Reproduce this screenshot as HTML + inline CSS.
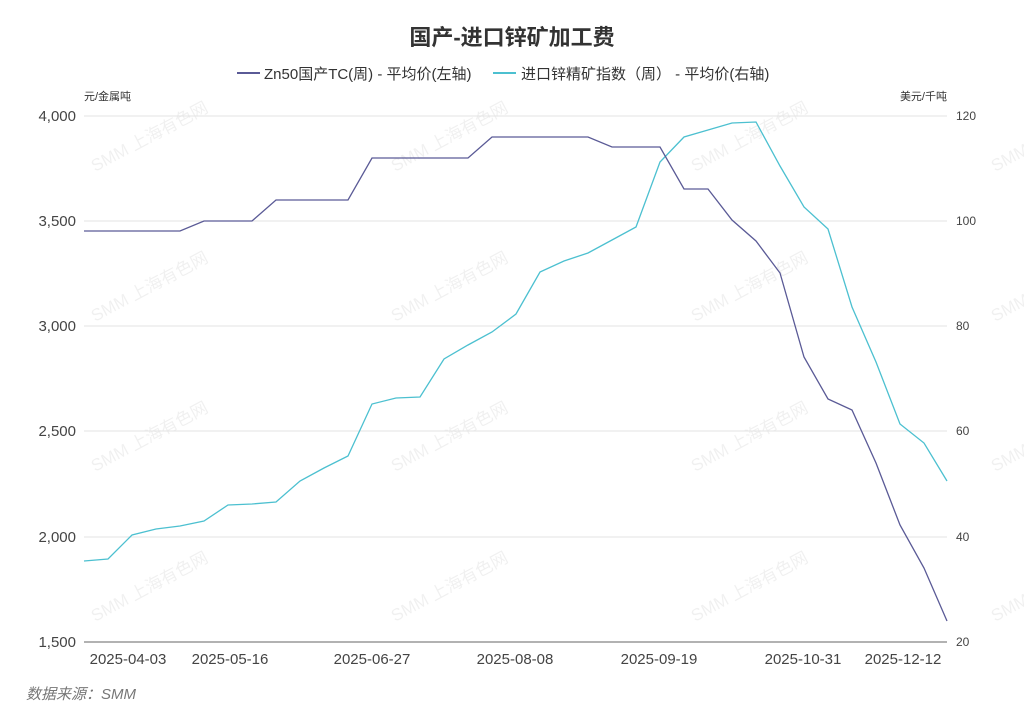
<!DOCTYPE html>
<html><head><meta charset="utf-8"><style>
body{margin:0;background:#fff;}
svg text{font-family:"Liberation Sans","Noto Sans CJK SC",sans-serif;}
</style></head><body>
<svg width="1024" height="722" viewBox="0 0 1024 722" xmlns="http://www.w3.org/2000/svg">
<rect width="1024" height="722" fill="#fff"/>
<g fill="#000" fill-opacity="0.06" font-size="17">
<text transform="translate(95,172) rotate(-28)">SMM 上海有色网</text>
<text transform="translate(395,172) rotate(-28)">SMM 上海有色网</text>
<text transform="translate(695,172) rotate(-28)">SMM 上海有色网</text>
<text transform="translate(995,172) rotate(-28)">SMM 上海有色网</text>
<text transform="translate(95,322) rotate(-28)">SMM 上海有色网</text>
<text transform="translate(395,322) rotate(-28)">SMM 上海有色网</text>
<text transform="translate(695,322) rotate(-28)">SMM 上海有色网</text>
<text transform="translate(995,322) rotate(-28)">SMM 上海有色网</text>
<text transform="translate(95,472) rotate(-28)">SMM 上海有色网</text>
<text transform="translate(395,472) rotate(-28)">SMM 上海有色网</text>
<text transform="translate(695,472) rotate(-28)">SMM 上海有色网</text>
<text transform="translate(995,472) rotate(-28)">SMM 上海有色网</text>
<text transform="translate(95,622) rotate(-28)">SMM 上海有色网</text>
<text transform="translate(395,622) rotate(-28)">SMM 上海有色网</text>
<text transform="translate(695,622) rotate(-28)">SMM 上海有色网</text>
<text transform="translate(995,622) rotate(-28)">SMM 上海有色网</text>
</g>
<text x="512" y="45" text-anchor="middle" font-size="22" font-weight="bold" fill="#333">国产-进口锌矿加工费</text>
<line x1="237" y1="73" x2="260" y2="73" stroke="#5a5a96" stroke-width="2"/>
<text x="264" y="79" font-size="15" fill="#333">Zn50国产TC(周) - 平均价(左轴)</text>
<line x1="493" y1="73" x2="516" y2="73" stroke="#4cc0d0" stroke-width="2"/>
<text x="521" y="79" font-size="15" fill="#333">进口锌精矿指数（周） - 平均价(右轴)</text>
<text x="84" y="100" font-size="11" fill="#333">元/金属吨</text>
<text x="947" y="100" font-size="11" fill="#333" text-anchor="end">美元/千吨</text>
<g stroke="#e3e3e3" stroke-width="1">
<line x1="84" y1="116" x2="947" y2="116"/><line x1="84" y1="221" x2="947" y2="221"/>
<line x1="84" y1="326" x2="947" y2="326"/><line x1="84" y1="431" x2="947" y2="431"/>
<line x1="84" y1="537" x2="947" y2="537"/>
</g>
<line x1="84" y1="642" x2="947" y2="642" stroke="#666" stroke-width="1"/>
<g font-size="15" fill="#444" text-anchor="end">
<text x="76" y="121">4,000</text><text x="76" y="226">3,500</text><text x="76" y="331">3,000</text>
<text x="76" y="436">2,500</text><text x="76" y="542">2,000</text><text x="76" y="647">1,500</text>
</g>
<g font-size="12" fill="#444">
<text x="956" y="120">120</text><text x="956" y="225">100</text><text x="956" y="330">80</text>
<text x="956" y="435">60</text><text x="956" y="541">40</text><text x="956" y="646">20</text>
</g>
<g font-size="15" fill="#444" text-anchor="middle">
<text x="128" y="664">2025-04-03</text><text x="230" y="664">2025-05-16</text><text x="372" y="664">2025-06-27</text>
<text x="515" y="664">2025-08-08</text><text x="659" y="664">2025-09-19</text><text x="803" y="664">2025-10-31</text>
<text x="903" y="664">2025-12-12</text>
</g>
<polyline fill="none" stroke="#4cc0d0" stroke-width="1.3" points="84,561 108,559 132,535 156,529 180,526 204,521 228,505 252,504 276,502 300,481 324,468 348,456 372,404 396,398 420,397 444,359 468,345 492,332 516,314 540,272 564,261 588,253 612,240 636,227 660,162 684,137 708,130 732,123 756,122 780,166 804,207 828,229 852,307 876,362 900,424 924,443 947,481"/>
<polyline fill="none" stroke="#5a5a96" stroke-width="1.3" points="84,231 180,231 204,221 252,221 276,200 348,200 372,158 468,158 492,137 588,137 612,147 660,147 684,189 708,189 732,220 756,241 780,273 804,357 828,399 852,410 876,463 900,525 924,568 947,621"/>
<text x="26" y="699" font-size="15" font-style="italic" fill="#777">数据来源：SMM</text>
</svg>
</body></html>
